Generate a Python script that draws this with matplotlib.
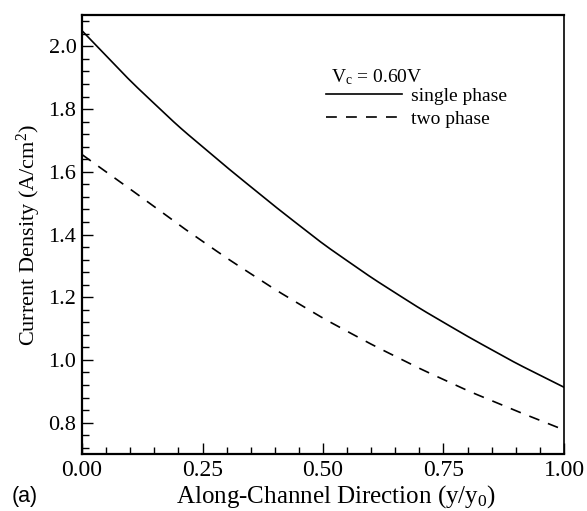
import numpy as np
import matplotlib.pyplot as plt
from matplotlib.ticker import MultipleLocator, FormatStrFormatter

plt.rcParams["font.family"] = ["Liberation Serif", "DejaVu Serif"]
plt.rcParams["mathtext.fontset"] = "custom"
plt.rcParams["mathtext.rm"] = "Liberation Serif"
plt.rcParams["mathtext.it"] = "Liberation Serif:italic"

# values
y_pos = [0.0, 0.1, 0.2, 0.3, 0.4, 0.5, 0.6, 0.7, 0.8, 0.9, 1.0]
single_phase = [2.05, 1.89, 1.745, 1.615, 1.49, 1.37, 1.263, 1.165, 1.075, 0.99, 0.913]
two_phase = [1.655, 1.545, 1.432, 1.325, 1.225, 1.133, 1.05, 0.973, 0.902, 0.838, 0.777]

# smooth curves through the read points
xs = np.linspace(0, 1, 201)
s_curve = np.interp(xs, y_pos, single_phase)
t_curve = np.interp(xs, y_pos, two_phase)
k = np.ones(9) / 9
def smooth(v):
    p = np.pad(v, 4, mode="reflect", reflect_type="odd")
    return np.convolve(p, k, mode="valid")
s_curve = smooth(s_curve)
t_curve = smooth(t_curve)

fig = plt.figure(figsize=(5.87, 5.11), dpi=100)
ax = fig.add_axes([0.1397, 0.1115, 0.8211, 0.8591])

ax.plot(xs, s_curve, color="black", lw=1.2, label="single phase")
ax.plot(xs, t_curve, color="black", lw=1.2, dashes=(6.5, 5.5), label="two phase")

ax.set_xlim(0, 1)
ax.set_ylim(0.7, 2.1)
ax.xaxis.set_major_locator(MultipleLocator(0.25))
ax.xaxis.set_minor_locator(MultipleLocator(0.05))
ax.yaxis.set_major_locator(MultipleLocator(0.2))
ax.yaxis.set_minor_locator(MultipleLocator(0.04))
ax.xaxis.set_major_formatter(FormatStrFormatter("%.2f"))
ax.yaxis.set_major_formatter(FormatStrFormatter("%.1f"))
ax.tick_params(which="both", direction="in", top=False, right=False,
               labelsize=16, width=1.0)
ax.tick_params(axis="x", labelsize=17)
ax.tick_params(which="major", length=8, pad=4)
ax.tick_params(which="minor", length=5)
for side in ["left", "bottom", "top"]:
    ax.spines[side].set_linewidth(1.6)
ax.spines["right"].set_linewidth(1.2)

ax.set_xlabel("Along-Channel Direction (y/y$_0$)", fontsize=18)
ax.xaxis.set_label_coords(0.527, -0.066)
ax.set_ylabel("Current Density (A/cm$^2$)", fontsize=16, labelpad=4)

ax.text(0.516, 0.859, "V$_\\mathrm{c}$ = 0.60V", transform=ax.transAxes,
        fontsize=14, va="center", ha="left")
ax.legend(loc="upper left", bbox_to_anchor=(0.507, 0.836), frameon=False,
          fontsize=14, handlelength=3.9, handletextpad=0.45,
          borderpad=0, borderaxespad=0, labelspacing=0.3)

fig.text(0.019, 0.029, "(a)", fontsize=15.5, family="Liberation Sans",
         va="center", ha="left")

fig.savefig("out.png", dpi=100)
